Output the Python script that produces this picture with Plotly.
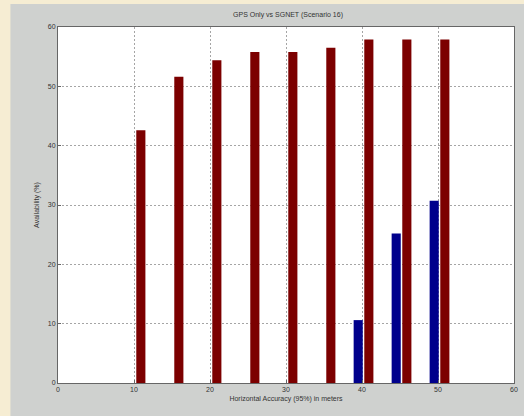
import plotly.graph_objects as go

# Horizontal accuracy thresholds (95%), in meters
accuracy_m = [10, 15, 20, 25, 30, 35, 40, 45, 50]

# Availability (%) per threshold
gps_only = [0, 0, 0, 0, 0, 0, 10.6, 25.2, 30.7]
sgnet = [42.6, 51.6, 54.4, 55.8, 55.8, 56.5, 57.9, 57.9, 57.9]

x_ticks = [0, 10, 20, 30, 40, 50, 60]
y_ticks = [0, 10, 20, 30, 40, 50, 60]

W, H = 524, 416
ML, MR, MT, MB = 58, 6, 27, 33
PW, PH = W - ML - MR, H - MT - MB

FONT = "Liberation Sans, Arial, sans-serif"
BEIGE = "#f6edd3"
PANEL = "#cfd1cf"

fig = go.Figure()
fig.add_trace(go.Bar(
    x=accuracy_m, y=gps_only, name="GPS Only",
    width=1.2, offset=-1.1,
    marker=dict(color="#00008c", line=dict(width=0)),
))
fig.add_trace(go.Bar(
    x=accuracy_m, y=sgnet, name="SGNET",
    width=1.2, offset=0.3,
    marker=dict(color="#7c0000", line=dict(width=0)),
))

# beige page edge along the left and top of the gray figure panel
fig.add_shape(
    type="rect", xref="paper", yref="paper", layer="below",
    x0=-0.5, x1=(10 - ML) / PW, y0=-0.5, y1=1.5,
    fillcolor=BEIGE, line=dict(width=0),
)
fig.add_shape(
    type="rect", xref="paper", yref="paper", layer="below",
    x0=-0.5, x1=1.5, y0=1 + (MT - 4) / PH, y1=1.5,
    fillcolor=BEIGE, line=dict(width=0),
)

axis_common = dict(
    showline=True, mirror=True, linecolor="#666666", linewidth=1,
    ticks="inside", ticklen=3, tickcolor="#666666",
    showgrid=True, gridcolor="#a5a5a5", griddash="2px,2px", gridwidth=1,
    zeroline=False,
    tickfont=dict(family=FONT, size=7, color="#333333"),
    title_font=dict(family=FONT, size=7, color="#333333"),
)

fig.update_layout(
    width=W, height=H,
    margin=dict(l=ML, r=MR, t=MT, b=MB),
    paper_bgcolor=PANEL, plot_bgcolor="white",
    showlegend=False, barmode="overlay",
    title=dict(
        text="GPS Only vs SGNET (Scenario 16)",
        font=dict(family=FONT, size=7, color="#333333"),
        x=(ML + PW / 2) / W, xanchor="center", y=1 - 15 / H, yanchor="middle",
    ),
    xaxis=dict(range=[0, 60], tickvals=x_ticks, ticktext=[str(v) for v in x_ticks],
               title=dict(text="Horizontal Accuracy (95%) in meters", standoff=3),
               **axis_common),
    yaxis=dict(range=[0, 60], tickvals=y_ticks, ticktext=[str(v) for v in y_ticks],
               title=dict(text="Availability (%)", standoff=7),
               **axis_common),
)

fig.write_html("out.html")
